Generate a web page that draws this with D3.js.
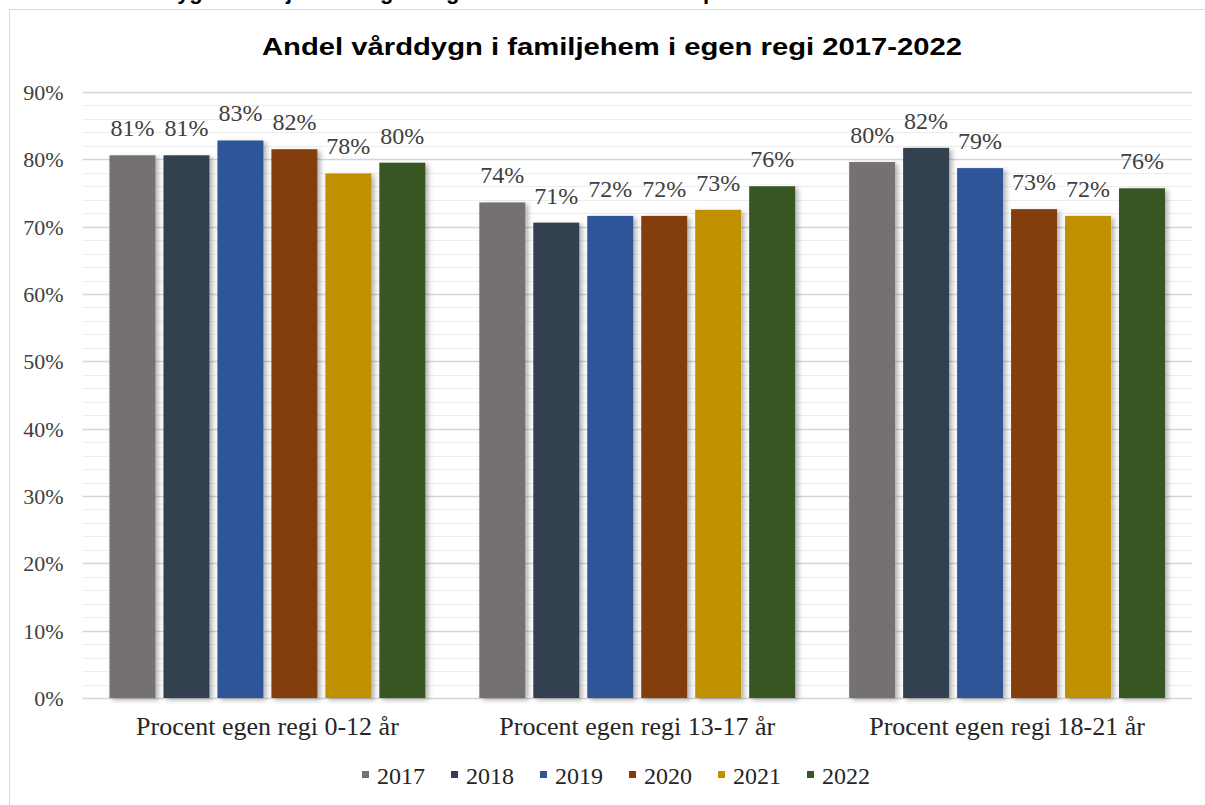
<!DOCTYPE html>
<html>
<head>
<meta charset="utf-8">
<script src="https://cdn.jsdelivr.net/npm/d3@7"></script>
<style>
  body { margin: 0; background: #fff; }
  svg { display: block; }
</style>
</head>
<body>
<div id="chart"></div>
<script>
const categories = ['Procent egen regi 0-12 år', 'Procent egen regi 13-17 år', 'Procent egen regi 18-21 år']
const years = ['2017', '2018', '2019', '2020', '2021', '2022']
const colors = ['#767171', '#333f50', '#2f5597', '#843c0c', '#bf9000', '#375623']

// one array per year, values per category (share, %)
const v2017 = [80.6, 73.6, 79.6]
const v2018 = [80.6, 70.6, 81.7]
const v2019 = [82.8, 71.6, 78.7]
const v2020 = [81.5, 71.6, 72.6]
const v2021 = [77.9, 72.5, 71.6]
const v2022 = [79.5, 76.0, 75.7]
const series = [v2017, v2018, v2019, v2020, v2021, v2022]

const yTicks = [0, 10, 20, 30, 40, 50, 60, 70, 80, 90]
const minorTicks = d3.range(0, 91, 2)

const SERIF = "'Liberation Serif', 'Times New Roman', serif"
const SANS = "'Liberation Sans', Arial, sans-serif"

const WIDTH = 1205
const HEIGHT = 805
const MARGIN = { LEFT: 82.5, RIGHT: 13, TOP: 92, BOTTOM: 107 }

const svg = d3.select('#chart').append('svg')
  .attr('width', WIDTH)
  .attr('height', HEIGHT)

const defs = svg.append('defs')
const shadow = defs.append('filter').attr('id', 'shadow')
  .attr('x', '-20%').attr('y', '-5%').attr('width', '150%').attr('height', '115%')
shadow.append('feDropShadow')
  .attr('dx', 3).attr('dy', 2).attr('stdDeviation', 2.5)
  .attr('flood-color', '#000').attr('flood-opacity', 0.3)

// caption line of the page above the chart, cut off at the top edge
svg.append('text')
  .attr('x', 50)
  .attr('y', -1)
  .style('font-family', SANS)
  .style('font-weight', 'bold')
  .style('font-size', '22px')
  .attr('fill', '#000')
  .text('Andel vårddygn i familjehem i egen regi under åren 2017-2022 per ålder')

// chart frame
svg.append('rect')
  .attr('x', 9.5).attr('y', 9.5)
  .attr('width', 1205).attr('height', 820)
  .attr('fill', '#fff')
  .attr('stroke', '#d9d9d9')

// title
svg.append('text')
  .attr('x', 612)
  .attr('y', 55)
  .attr('text-anchor', 'middle')
  .attr('textLength', 700)
  .attr('lengthAdjust', 'spacingAndGlyphs')
  .style('font-family', SANS)
  .style('font-weight', 'bold')
  .style('font-size', '24px')
  .attr('fill', '#000')
  .text('Andel vårddygn i familjehem i egen regi 2017-2022')

const x0 = d3.scaleBand()
  .domain(categories)
  .range([MARGIN.LEFT, WIDTH - MARGIN.RIGHT])
  .paddingInner(0)
  .paddingOuter(0)

const x1 = d3.scaleBand()
  .domain(years)
  .range([27, x0.bandwidth() - 27])
  .paddingInner(0.148)

const y = d3.scaleLinear()
  .domain([0, 90])
  .range([HEIGHT - MARGIN.BOTTOM, MARGIN.TOP])

const g = svg.append('g')

// minor grid
g.append('g').selectAll('line')
  .data(minorTicks.filter(t => t % 10 !== 0))
  .join('line')
  .attr('x1', MARGIN.LEFT).attr('x2', WIDTH - MARGIN.RIGHT)
  .attr('y1', d => Math.round(y(d)) + 0.5).attr('y2', d => Math.round(y(d)) + 0.5)
  .attr('stroke', '#ededed')

// major grid
g.append('g').selectAll('line')
  .data(yTicks)
  .join('line')
  .attr('x1', MARGIN.LEFT).attr('x2', WIDTH - MARGIN.RIGHT)
  .attr('y1', d => Math.round(y(d)) + 0.5).attr('y2', d => Math.round(y(d)) + 0.5)
  .attr('stroke', '#d6d6d6')
  .attr('stroke-width', 1.3)

// y axis labels
const yAxis = d3.axisLeft(y)
  .tickValues(yTicks)
  .tickSize(0)
  .tickPadding(0)
  .tickFormat(d => d + '%')
const yg = g.append('g')
  .attr('transform', `translate(${MARGIN.LEFT - 19},0)`)
  .call(yAxis)
  .attr('font-family', SERIF)
  .attr('font-size', 22)
yg.select('.domain').remove()
yg.selectAll('text')
  .attr('dy', '0.34em')
  .attr('fill', '#404040')

// bars
const groups = g.append('g').selectAll('g')
  .data(categories)
  .join('g')
  .attr('transform', d => `translate(${x0(d)},0)`)

groups.selectAll('rect')
  .data((d, ci) => years.map((yr, si) => ({ yr, si, value: series[si][ci] })))
  .join('rect')
  .attr('x', d => x1(d.yr))
  .attr('width', x1.bandwidth())
  .attr('y', d => y(d.value))
  .attr('height', d => y(0) - y(d.value))
  .attr('fill', d => colors[d.si])
  .attr('filter', 'url(#shadow)')

groups.selectAll('text')
  .data((d, ci) => years.map((yr, si) => ({ yr, si, value: series[si][ci] })))
  .join('text')
  .attr('x', d => x1(d.yr) + x1.bandwidth() / 2)
  .attr('y', d => y(d.value) - 19)
  .attr('text-anchor', 'middle')
  .attr('font-family', SERIF)
  .attr('font-size', 24)
  .attr('fill', '#404040')
  .text(d => Math.round(d.value) + '%')

// category labels
const xAxis = d3.axisBottom(x0).tickSize(0).tickPadding(0)
const xg = g.append('g')
  .attr('transform', `translate(0,${y(0) + 37})`)
  .call(xAxis)
  .attr('font-family', SERIF)
  .attr('font-size', 26)
xg.select('.domain').remove()
xg.selectAll('text')
  .attr('dy', 0)
  .attr('fill', '#262626')

// legend
const legend = svg.append('g').attr('transform', 'translate(362,775)')
const item = legend.selectAll('g')
  .data(years)
  .join('g')
  .attr('transform', (d, i) => `translate(${i * 89},0)`)
item.append('rect')
  .attr('x', 0).attr('y', -4)
  .attr('width', 7).attr('height', 7)
  .attr('fill', (d, i) => colors[i])
item.append('text')
  .attr('x', 15)
  .attr('y', 9)
  .attr('font-family', SERIF)
  .attr('font-size', 24)
  .attr('fill', '#262626')
  .text(d => d)
</script>
</body>
</html>
